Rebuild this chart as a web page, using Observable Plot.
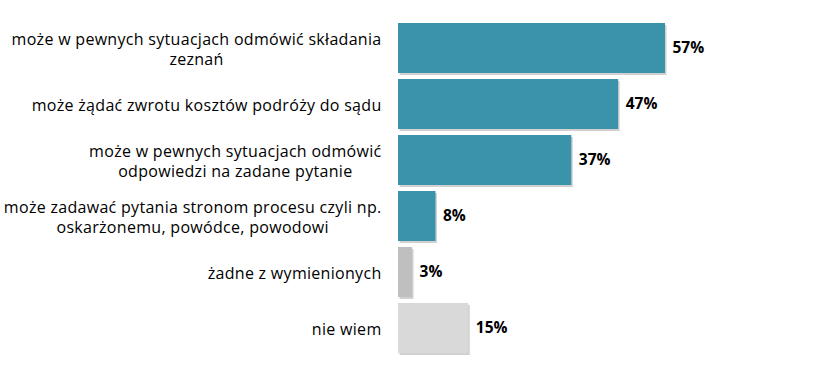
<!DOCTYPE html>
<html>
<head>
<meta charset="utf-8">
<script src="https://cdn.jsdelivr.net/npm/d3@7"></script>
<script src="https://cdn.jsdelivr.net/npm/@observablehq/plot@0.6"></script>
<style>
  body { margin: 0; background: #fff; }
  #chart svg { display: block; }
  #chart svg g.cat-label text { letter-spacing: 0.3px; }
</style>
</head>
<body>
<div id="chart"></div>
<script>
const categories = [
  "może w pewnych sytuacjach odmówić składania\nzeznań",
  "może żądać zwrotu kosztów podróży do sądu",
  "może w pewnych sytuacjach odmówić\nodpowiedzi na zadane pytanie",
  "może zadawać pytania stronom procesu czyli np.\noskarżonemu, powódce, powodowi",
  "żadne z wymienionych",
  "nie wiem"
];
const values = [0.57, 0.47, 0.37, 0.08, 0.03, 0.15];
const colors = ["#3A93AB", "#3A93AB", "#3A93AB", "#3A93AB", "#BFBFBF", "#D9D9D9"];

const data = categories.map((c, i) => ({category: c, value: values[i], color: colors[i]}));

const FONT = "'Open Sans'";
const LABEL_SIZE = 16;
const SPACING = 0.3;
const ctx = document.createElement("canvas").getContext("2d");
ctx.font = `${LABEL_SIZE}px ${FONT}`;
const lineWidth = l => ctx.measureText(l).width + SPACING * l.length;
const blockWidth = c => Math.max(...c.split("\n").map(lineWidth));

const labelGap = 17;

const labelMarks = data.map(d => Plot.text([d], {
  y: "category",
  frameAnchor: "left",
  text: "category",
  textAnchor: "middle",
  lineHeight: 20 / LABEL_SIZE,
  dx: -labelGap - blockWidth(d.category) / 2,
  fill: "#000",
  fontSize: LABEL_SIZE,
  className: "cat-label"
}));

const chart = Plot.plot({
  width: 840,
  height: 369,
  marginLeft: 398,
  marginRight: 175,
  marginTop: 19,
  marginBottom: 13,
  style: {fontFamily: FONT, background: "#fff"},
  x: {domain: [0, 0.57], axis: null},
  y: {domain: categories, axis: null, paddingInner: 0.11, paddingOuter: 0.055},
  marks: [
    Plot.barX(data, {y: "category", x: "value", fill: "#000", fillOpacity: 0.18, dx: 1.5, dy: 2}),
    Plot.barX(data, {y: "category", x: "value", fill: "color"}),
    Plot.text(data, {
      y: "category", x: "value",
      text: d => Math.round(d.value * 100) + "%",
      textAnchor: "start", dx: 7,
      fontWeight: "bold", fontSize: 15.5, fill: "#000"
    }),
    ...labelMarks
  ]
});
document.getElementById("chart").append(chart);
</script>
</body>
</html>
